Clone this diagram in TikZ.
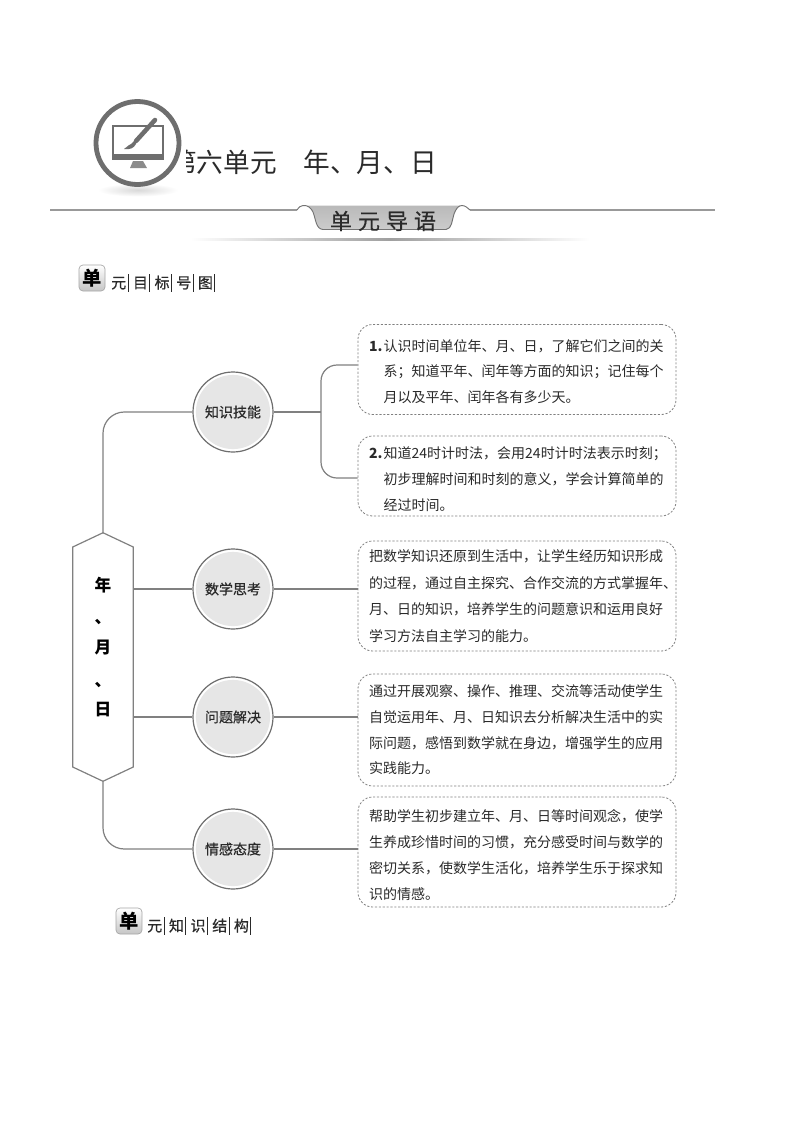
\documentclass[tikz,border=0pt]{standalone}
\usepackage{fontspec}
\setmainfont{Noto Sans CJK SC}
\newfontfamily\medfont[FakeBold=0.5]{Noto Sans CJK SC}
\usetikzlibrary{shapes.geometric}
\definecolor{ln}{HTML}{808080}
\definecolor{ink}{HTML}{2A2A2A}
\definecolor{cfill}{HTML}{E6E6E6}
\definecolor{icon}{HTML}{6E6E6E}
\newcommand{\hdch}[1]{#1\hspace{1.1pt}\rule[-2.5pt]{0.5pt}{13pt}\hspace{3.4pt}}
\tikzset{
  conn/.style={draw=ln,line width=0.9pt},
  dbox/.style={draw=ln,dashed,dash pattern=on 1.6pt off 1.3pt,line width=0.6pt,rounded corners=11pt,minimum width=238.5pt,text width=222pt,inner xsep=8.25pt,inner ysep=0pt,align=left,text=ink,font=\fontsize{10.5}{19.2}\selectfont},
  topic/.style={circle,draw=icon,line width=0.9pt,fill=white,minimum size=60pt,inner sep=0pt,text=ink,font=\medfont\fontsize{10.5}{12}\selectfont,
    path picture={\fill[cfill] (path picture bounding box.center) circle (27.8pt);}},
  btn/.style={rounded corners=3pt,draw=gray!70,line width=0.5pt,top color=white,bottom color=gray!45,minimum size=19.5pt,inner sep=0pt,font=\bfseries\fontsize{14.5}{15}\selectfont,text=black},
  hdtext/.style={anchor=west,inner sep=0pt,text=ink,font=\medfont\fontsize{11.25}{12}\selectfont},
  hexch/.style={inner sep=0pt,text=black,font=\bfseries\fontsize{12.5}{14}\selectfont}
}
\begin{document}
\begin{tikzpicture}[x=.75pt,y=-.75pt]
\useasboundingbox (0,0) rectangle (800,1132);
\fill[white] (0,0) rectangle (800,1132);
% title
\node[anchor=west,inner sep=0pt,text=ink,font=\fontsize{20}{22}\selectfont] (title) at (170,162) {第六单元　年、月、日};
\fill[white] (90,95) rectangle (186,195);
% icon
\shade[inner color=gray!30,outer color=white,draw=none] (138,190) ellipse (40 and 6.5);
\draw[icon,line width=3.6pt,fill=white] (137.5,143) circle (41.5);
\draw[icon,line width=1.4pt] (113,126) rectangle (163,156);
\fill[icon] (112,154) rectangle (164,160);
\fill[icon!80] (133,161) -- (143,161) -- (147,168) -- (130,168) -- cycle;
\draw[icon,line width=3.4pt,line cap=round] (155,120) -- (136,141);
\fill[icon] (136,139) -- (131,144) .. controls (127,146) and (126,148) .. (124,149) .. controls (130,150) and (134,148) .. (136,144) -- cycle;
% banner
\coordinate (rl) at (50,210);
\coordinate (rr) at (715,210);
\shade[left color=white,right color=white,middle color=gray!75,draw=none] (190,238) rectangle (590,240.5);
\draw[gray!80,line width=0.9pt] (rl) -- (297,210);
\draw[gray!80,line width=0.9pt] (470,210) -- (rr);
\shade[top color=gray!55,middle color=gray!12,bottom color=gray!40]
  (303,205.5) .. controls (308,205) and (311,208) .. (313,212) .. controls (316,220) and (316,229) .. (323,229.5)
  -- (446,229.5) .. controls (452,229) and (452,220) .. (454,214) .. controls (456,209) and (458,205.5) .. (462,205.5) -- cycle;
\draw[gray!90!black,line width=0.7pt]
  (297,210) .. controls (299,207) and (301,205.5) .. (303,205.5) .. controls (308,205) and (311,208) .. (313,212) .. controls (316,220) and (316,229) .. (323,229.5)
  -- (446,229.5) .. controls (452,229) and (452,220) .. (454,214) .. controls (456,209) and (458,205.5) .. (462,205.5) .. controls (465,205.5) and (468,208) .. (470,210);
\node[inner sep=0pt,text=ink,font=\medfont\fontsize{16.5}{17}\selectfont] (guide) at (383,221) {单\hspace{4.5pt}元\hspace{4.5pt}导\hspace{4.5pt}语};
% section headings
\node[btn] (h1) at (92,278) {单};
\node[hdtext] (h1t) at (111,283) {\hdch{元}\hdch{目}\hdch{标}\hdch{号}\hdch{图}};
\node[btn] (h2) at (129,921) {单};
\node[hdtext] (h2t) at (147,926) {\hdch{元}\hdch{知}\hdch{识}\hdch{结}\hdch{构}};
% hexagon holder
\node[minimum width=45pt,minimum height=186pt,inner sep=0pt] (hex) at (103,657) {};
\draw[ln,line width=0.9pt,fill=white] (hex.north) -- (hex.east |- 0,547) -- (hex.east |- 0,767) -- (hex.south) -- (hex.west |- 0,767) -- (hex.west |- 0,547) -- cycle;
\node[hexch] (y1) at (103,585) {年};
\node[hexch] (y2) at (103,622) {、};
\node[hexch] (y3) at (103,648) {月};
\node[hexch] (y4) at (103,685) {、};
\node[hexch] (y5) at (103,710) {日};
% topics
\node[topic] (c1) at (233,412) {知识技能};
\node[topic] (c2) at (233,589) {数学思考};
\node[topic] (c3) at (233,717) {问题解决};
\node[topic] (c4) at (233,849) {情感态度};
% boxes
\node[dbox,minimum height=67.5pt] (b1) at (517,369.5) {\rule{0pt}{11.8pt}\mbox{\makebox[11pt][l]{\textbf{1.}}认识时间单位年、月、日，了解它们之间的关}\\\hspace*{11pt}系；知道平年、闰年等方面的知识；记住每个\\\hspace*{11pt}月以及平年、闰年各有多少天。};
\node[dbox,minimum height=60pt] (b2) at (517,476) {\rule{0pt}{13.5pt}\mbox{\makebox[11pt][l]{\textbf{2.}}知道24时计时法，会用24时计时法表示时刻；}\\\hspace*{11pt}初步理解时间和时刻的意义，学会计算简单的\\\hspace*{11pt}经过时间。};
\node[dbox,minimum height=82.5pt,font=\fontsize{10.5}{20}\selectfont] (b3) at (517,596) {把数学知识还原到生活中，让学生经历知识形成\\的过程，通过自主探究、合作交流的方式掌握年、\\月、日的知识，培养学生的问题意识和运用良好\\学习方法自主学习的能力。};
\node[dbox,minimum height=84pt] (b4) at (517,730) {通过开展观察、操作、推理、交流等活动使学生\\自觉运用年、月、日知识去分析解决生活中的实\\际问题，感悟到数学就在身边，增强学生的应用\\实践能力。};
\node[dbox,minimum height=82.5pt,font=\fontsize{10.5}{19.5}\selectfont] (b5) at (517,852) {\rule{0pt}{14pt}帮助学生初步建立年、月、日等时间观念，使学\\生养成珍惜时间的习惯，充分感受时间与数学的\\密切关系，使数学生活化，培养学生乐于探求知\\识的情感。};
% connectors
\draw[conn,rounded corners=16pt] (hex.north) |- (c1.west);
\draw[conn,rounded corners=16pt] (hex.south) |- (c4.west);
\draw[conn] (hex.east |- c2.west) -- (c2.west);
\draw[conn] (hex.east |- c3.west) -- (c3.west);
\coordinate (t0) at (321,412);
\coordinate (t1) at (321,365);
\coordinate (t2) at (321,478);
\draw[conn] (c1.east) -- (t0);
\draw[conn,rounded corners=12pt] (b1.west |- t1) -- (t1) -- (t2) -- (b2.west |- t2);
\draw[conn] (c2.east) -- (b3.west |- c2.east);
\draw[conn] (c3.east) -- (b4.west |- c3.east);
\draw[conn] (c4.east) -- (b5.west |- c4.east);
\end{tikzpicture}
\end{document}
